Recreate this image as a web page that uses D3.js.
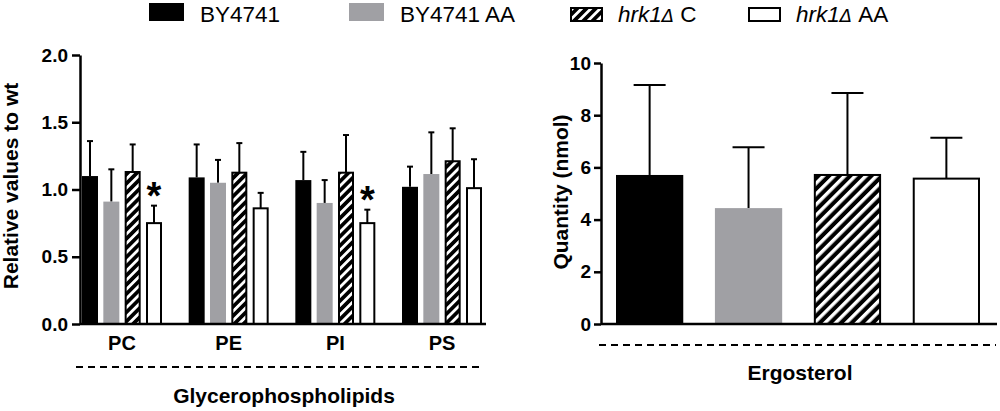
<!DOCTYPE html>
<html>
<head>
<meta charset="utf-8">
<script src="https://cdn.jsdelivr.net/npm/d3@7"></script>
<style>
  body { margin: 0; background: #fff; }
  text { font-family: "Liberation Sans", Arial, sans-serif; fill: #000; }
</style>
</head>
<body>
<svg width="1000" height="411"></svg>
<script>
// strains / treatments
var series = ["BY4741", "BY4741 AA", "hrk1C", "hrk1AA"];

// glycerophospholipids, relative to wt
var lipids = ["PC", "PE", "PI", "PS"];
var mean_by     = [1.10, 1.09, 1.07, 1.02];
var mean_by_aa  = [0.91, 1.05, 0.90, 1.115];
var mean_hrk    = [1.13, 1.125, 1.125, 1.21];
var mean_hrk_aa = [0.75, 0.86, 0.75, 1.01];
var err_by      = [0.26, 0.245, 0.21, 0.15];
var err_by_aa   = [0.24, 0.17, 0.17, 0.31];
var err_hrk     = [0.205, 0.22, 0.28, 0.245];
var err_hrk_aa  = [0.13, 0.115, 0.10, 0.215];
var signif = ["PC", "PI"];   // * on hrk1 AA

// ergosterol, nmol
var ergo_mean = [5.71, 4.44, 5.71, 5.57];
var ergo_err  = [3.45, 2.33, 3.14, 1.57];

var lipid_ticks = [0, 0.5, 1.0, 1.5, 2.0];
var ergo_ticks  = [0, 2, 4, 6, 8, 10];

var means = [mean_by, mean_by_aa, mean_hrk, mean_hrk_aa];
var errs  = [err_by, err_by_aa, err_hrk, err_hrk_aa];

var svg = d3.select("svg");
var defs = svg.append("defs");

function make_hatch(id, gap, lw) {
  var p = defs.append("pattern")
    .attr("id", id)
    .attr("patternUnits", "userSpaceOnUse")
    .attr("width", gap).attr("height", gap)
    .attr("patternTransform", "rotate(45)");
  p.append("rect").attr("width", gap).attr("height", gap).attr("fill", "#000");
  p.append("rect").attr("width", lw).attr("height", gap).attr("fill", "#fff");
}
make_hatch("hatch_s", 6.5, 2.8);
make_hatch("hatch_l", 7.5, 3.4);

function fill_of(i, hatch) {
  return ["#000", "#a0a0a4", "url(#" + hatch + ")", "#fff"][i];
}
function stroked(i) { return i >= 2; }

var axis_w = 2.5;

function style_axis(g, size) {
  g.selectAll("path, line").attr("stroke", "#000").attr("stroke-width", axis_w);
  g.selectAll("text")
    .style("font-size", size + "px")
    .style("font-weight", "bold")
    .style("font-family", '"Liberation Sans", Arial, sans-serif')
    .attr("fill", "#000");
}

// ---------------- left panel ----------------
var L = {left: 80, right: 486, top: 55, bottom: 324};

var yL = d3.scaleLinear().domain([0, 2]).range([L.bottom, L.top]);
var x0 = d3.scaleBand().domain(lipids).range([82, 482]).paddingInner(0.25).paddingOuter(0);
var x1 = d3.scaleBand().domain(series).range([0, x0.bandwidth()]).paddingInner(0.25).paddingOuter(0);

var left = svg.append("g");

var lipid_rows = [];
lipids.forEach(function(c, ci) {
  series.forEach(function(s, si) {
    lipid_rows.push({cat: c, s: s, si: si, v: means[si][ci], e: errs[si][ci]});
  });
});

// error bars (upper only)
var capL = 3;
var eb = left.selectAll("g.eb").data(lipid_rows).enter().append("g").attr("class", "eb");
eb.append("line")
  .attr("x1", function(d){ return x0(d.cat) + x1(d.s) + x1.bandwidth()/2; })
  .attr("x2", function(d){ return x0(d.cat) + x1(d.s) + x1.bandwidth()/2; })
  .attr("y1", function(d){ return yL(d.v); })
  .attr("y2", function(d){ return yL(d.v + d.e); })
  .attr("stroke", "#000").attr("stroke-width", 2);
eb.append("line")
  .attr("x1", function(d){ return x0(d.cat) + x1(d.s) + x1.bandwidth()/2 - capL; })
  .attr("x2", function(d){ return x0(d.cat) + x1(d.s) + x1.bandwidth()/2 + capL; })
  .attr("y1", function(d){ return yL(d.v + d.e); })
  .attr("y2", function(d){ return yL(d.v + d.e); })
  .attr("stroke", "#000").attr("stroke-width", 2);

left.selectAll("rect.bar").data(lipid_rows).enter().append("rect")
  .attr("class", "bar")
  .attr("x", function(d){ return x0(d.cat) + x1(d.s) + (stroked(d.si) ? 1 : 0); })
  .attr("width", function(d){ return x1.bandwidth() - (stroked(d.si) ? 2 : 0); })
  .attr("y", function(d){ return yL(d.v); })
  .attr("height", function(d){ return yL(0) - yL(d.v); })
  .attr("fill", function(d){ return fill_of(d.si, "hatch_s"); })
  .attr("stroke", function(d){ return stroked(d.si) ? "#000" : "none"; })
  .attr("stroke-width", 2);

// significance stars
left.selectAll("text.star")
  .data(lipid_rows.filter(function(d){ return d.si === 3 && signif.indexOf(d.cat) > -1; }))
  .enter().append("text")
  .attr("class", "star")
  .attr("x", function(d){ return x0(d.cat) + x1(d.s) + x1.bandwidth()/2; })
  .attr("y", function(d){ return yL(d.v + d.e) + 3; })
  .attr("text-anchor", "middle")
  .style("font-size", "38px").style("font-weight", "bold")
  .text("*");

var yAxL = left.append("g")
  .attr("transform", "translate(" + L.left + ",0)")
  .call(d3.axisLeft(yL).tickValues(lipid_ticks).tickFormat(d3.format(".1f"))
    .tickSize(8).tickSizeOuter(0).tickPadding(4));
style_axis(yAxL, 19);

var xAxL = left.append("g")
  .attr("transform", "translate(0," + L.bottom + ")")
  .call(d3.axisBottom(x0).tickSize(0).tickPadding(12));
xAxL.select(".domain").remove();
style_axis(xAxL, 20);
left.append("line")
  .attr("x1", L.left).attr("x2", L.right)
  .attr("y1", L.bottom).attr("y2", L.bottom)
  .attr("stroke", "#000").attr("stroke-width", axis_w);

left.append("line")
  .attr("x1", 76).attr("x2", 484).attr("y1", 367).attr("y2", 367)
  .attr("stroke", "#000").attr("stroke-width", 2).attr("stroke-dasharray", "7,5");

left.append("text")
  .attr("x", 284).attr("y", 403).attr("text-anchor", "middle")
  .style("font-size", "21px").style("font-weight", "bold")
  .text("Glycerophospholipids");

left.append("text")
  .attr("transform", "translate(18,186) rotate(-90)")
  .attr("text-anchor", "middle")
  .style("font-size", "21px").style("font-weight", "bold")
  .text("Relative values to wt");

// ---------------- right panel ----------------
var R = {left: 601, right: 997, top: 63, bottom: 324};

var yR = d3.scaleLinear().domain([0, 10]).range([R.bottom, R.top]);
var xR = d3.scaleBand().domain(series).range([616, 980]).paddingInner(0.32).paddingOuter(0);

var right = svg.append("g");
var ergo_rows = series.map(function(s, si){ return {s: s, si: si, v: ergo_mean[si], e: ergo_err[si]}; });

var capR = 16;
var ebR = right.selectAll("g.eb").data(ergo_rows).enter().append("g").attr("class", "eb");
ebR.append("line")
  .attr("x1", function(d){ return xR(d.s) + xR.bandwidth()/2; })
  .attr("x2", function(d){ return xR(d.s) + xR.bandwidth()/2; })
  .attr("y1", function(d){ return yR(d.v); })
  .attr("y2", function(d){ return yR(d.v + d.e); })
  .attr("stroke", "#000").attr("stroke-width", 2);
ebR.append("line")
  .attr("x1", function(d){ return xR(d.s) + xR.bandwidth()/2 - capR; })
  .attr("x2", function(d){ return xR(d.s) + xR.bandwidth()/2 + capR; })
  .attr("y1", function(d){ return yR(d.v + d.e); })
  .attr("y2", function(d){ return yR(d.v + d.e); })
  .attr("stroke", "#000").attr("stroke-width", 2);

right.selectAll("rect.bar").data(ergo_rows).enter().append("rect")
  .attr("class", "bar")
  .attr("x", function(d){ return xR(d.s) + (stroked(d.si) ? 1 : 0); })
  .attr("width", function(d){ return xR.bandwidth() - (stroked(d.si) ? 2 : 0); })
  .attr("y", function(d){ return yR(d.v); })
  .attr("height", function(d){ return yR(0) - yR(d.v); })
  .attr("fill", function(d){ return fill_of(d.si, "hatch_l"); })
  .attr("stroke", function(d){ return stroked(d.si) ? "#000" : "none"; })
  .attr("stroke-width", 2);

var yAxR = right.append("g")
  .attr("transform", "translate(" + R.left + ",0)")
  .call(d3.axisLeft(yR).tickValues(ergo_ticks).tickFormat(d3.format("d"))
    .tickSize(7).tickSizeOuter(0).tickPadding(3));
style_axis(yAxR, 19);

right.append("line")
  .attr("x1", R.left).attr("x2", R.right)
  .attr("y1", R.bottom).attr("y2", R.bottom)
  .attr("stroke", "#000").attr("stroke-width", axis_w);

right.append("line")
  .attr("x1", 599).attr("x2", 996).attr("y1", 345).attr("y2", 345)
  .attr("stroke", "#000").attr("stroke-width", 2).attr("stroke-dasharray", "7,5");

right.append("text")
  .attr("x", 800).attr("y", 380).attr("text-anchor", "middle")
  .style("font-size", "21px").style("font-weight", "bold")
  .text("Ergosterol");

right.append("text")
  .attr("transform", "translate(568,192) rotate(-90)")
  .attr("text-anchor", "middle")
  .style("font-size", "21px").style("font-weight", "bold")
  .text("Quantity (nmol)");

// ---------------- legend ----------------
var legend_x = [149, 349, 570, 748];
var legend = svg.append("g").selectAll("g").data(series).enter().append("g")
  .attr("transform", function(d, i){ return "translate(" + legend_x[i] + ",0)"; });

legend.append("rect")
  .attr("x", function(d, i){ return stroked(i) ? 1 : 0; })
  .attr("y", function(d, i){ return stroked(i) ? 8 : 3; })
  .attr("width", function(d, i){ return stroked(i) ? 31 : 35; })
  .attr("height", function(d, i){ return stroked(i) ? 13 : 18; })
  .attr("fill", function(d, i){ return fill_of(i, "hatch_s"); })
  .attr("stroke", function(d, i){ return stroked(i) ? "#000" : "none"; })
  .attr("stroke-width", 2);

var lt = legend.append("text")
  .attr("x", function(d, i){ return stroked(i) ? 48 : 51; })
  .attr("y", 22)
  .style("font-size", "22.5px");

lt.each(function(d, i) {
  var t = d3.select(this);
  if (i < 2) { t.text(d); return; }
  t.append("tspan").style("font-style", "italic").text("hrk1");
  t.append("tspan").style("font-style", "italic").style("font-size", "18px")
    .style("font-family", '"DejaVu Sans", sans-serif').style("font-weight", "200").text("\u0394");
  t.append("tspan").text(i === 2 ? " C" : " AA");
});
</script>
</body>
</html>
